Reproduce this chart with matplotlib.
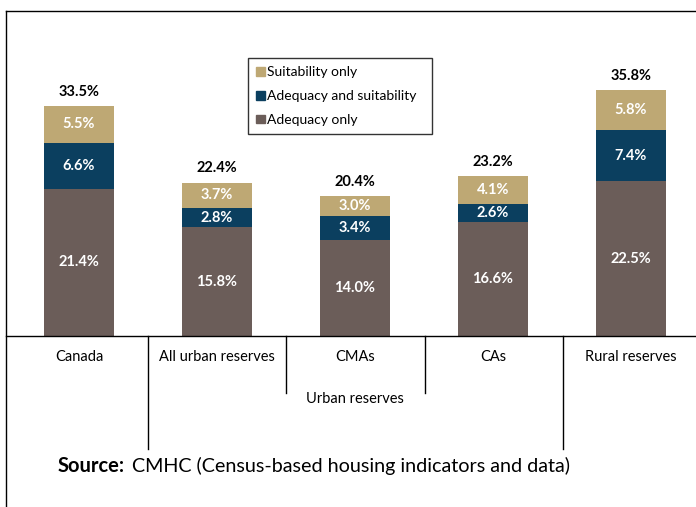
import matplotlib
matplotlib.use("Agg")
import matplotlib.pyplot as plt
from matplotlib.lines import Line2D
from matplotlib.patches import Patch

plt.rcParams['font.family'] = ['Lato', 'DejaVu Sans']

categories = ["Canada", "All urban reserves", "CMAs", "CAs", "Rural reserves"]
adequacy_only = [21.4, 15.8, 14.0, 16.6, 22.5]
adequacy_suit = [6.6, 2.8, 3.4, 2.6, 7.4]
suit_only = [5.5, 3.7, 3.0, 4.1, 5.8]
totals = [33.5, 22.4, 20.4, 23.2, 35.8]
series_names = ["Suitability only", "Adequacy and suitability", "Adequacy only"]
group_label = "Urban reserves"

c_tan = "#BEA874"
c_navy = "#0B3F5F"
c_grey = "#6B5D59"

W, H = 696, 507
fig = plt.figure(figsize=(W / 100, H / 100), dpi=100)

def fx(px):
    return px / W

def fy(py):
    return 1 - py / H

base_px = 336
top_px = 11
scale = 6.88
ax = fig.add_axes([fx(7), fy(base_px), fx(696) - fx(7), fy(top_px) - fy(base_px)])
ax.set_xlim(-72 / 138, 4 + 65 / 138)
ax.set_ylim(0, (base_px - top_px) / scale)
for s in ax.spines.values():
    s.set_visible(False)
ax.set_xticks([])
ax.set_yticks([])

x = list(range(len(categories)))
w = 70 / 138
ax.bar(x, adequacy_only, w, color=c_grey, label=series_names[2])
bot2 = adequacy_only
ax.bar(x, adequacy_suit, w, bottom=bot2, color=c_navy, label=series_names[1])
bot3 = [a + b for a, b in zip(adequacy_only, adequacy_suit)]
ax.bar(x, suit_only, w, bottom=bot3, color=c_tan, label=series_names[0])

lab_kw = dict(ha="center", va="center", color="white", fontsize=10.5, fontweight="bold")
for i in x:
    ax.text(i, adequacy_only[i] / 2, f"{adequacy_only[i]:.1f}%", **lab_kw)
    ax.text(i, bot2[i] + adequacy_suit[i] / 2, f"{adequacy_suit[i]:.1f}%", **lab_kw)
    ax.text(i, bot3[i] + suit_only[i] / 2, f"{suit_only[i]:.1f}%", **lab_kw)
    ax.annotate(f"{totals[i]:.1f}%", (i, totals[i]), xytext=(0, 5),
                textcoords="offset points", ha="center", va="bottom",
                fontsize=10.5, fontweight="bold", color="black")

# legend
handles = [Patch(color=c_tan), Patch(color=c_navy), Patch(color=c_grey)]
leg = fig.legend(handles, series_names, loc="upper left", mode="expand",
                 bbox_to_anchor=(fx(248), fy(134), fx(432) - fx(248), fy(58) - fy(134)),
                 frameon=True, fancybox=False,
                 edgecolor="black", fontsize=10, handlelength=0.6, handleheight=0.6,
                 handletextpad=0.2, labelspacing=0.85, borderpad=0.6,
                 borderaxespad=0)
leg.get_frame().set_linewidth(1.0)

# frame lines
lw = 1.0
fig.add_artist(Line2D([fx(6), fx(696)], [fy(11), fy(11)], color="black", lw=lw))
fig.add_artist(Line2D([fx(6), fx(6)], [fy(11), fy(507)], color="black", lw=lw))
fig.add_artist(Line2D([fx(6), fx(696)], [fy(base_px), fy(base_px)], color="black", lw=lw))

# category table
for px in [148, 563]:
    fig.add_artist(Line2D([fx(px), fx(px)], [fy(base_px), fy(449)], color="black", lw=lw))
for px in [286, 425]:
    fig.add_artist(Line2D([fx(px), fx(px)], [fy(base_px), fy(393)], color="black", lw=lw))

for i, c in enumerate(categories):
    t = ax.text(i, -(357 - base_px) / scale, c, ha="center", va="center", fontsize=10.5)
    t.set_clip_on(False)
t = ax.text(2, -(399 - base_px) / scale, group_label, ha="center", va="center", fontsize=10.5)
t.set_clip_on(False)

t1 = fig.text(fx(58), fy(466), "Source:", fontsize=14.5, fontweight="bold", va="center", ha="left")
ax.annotate("CMHC (Census-based housing indicators and data)", xy=(1, 0.5),
            xycoords=t1, xytext=(5, 0), textcoords="offset points",
            fontsize=14.2, va="center", ha="left", annotation_clip=False)

fig.savefig("out.png", dpi=100, facecolor="white")
